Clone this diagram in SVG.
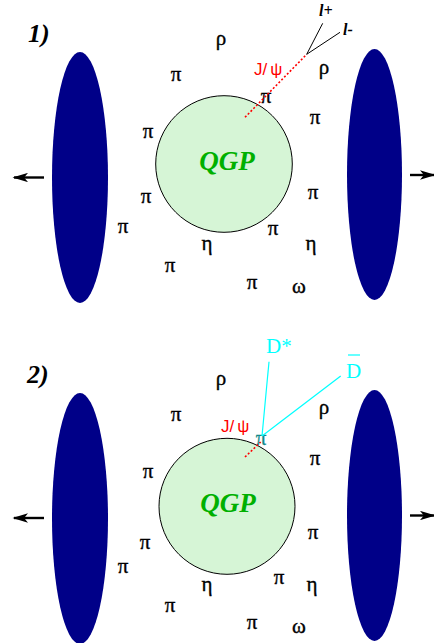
<svg xmlns="http://www.w3.org/2000/svg" width="434" height="643" viewBox="0 0 434 643">
<defs>
<style>
.nucleus{fill:#000088;stroke:none}
.qgp{fill:#d6f5d6;stroke:#000;stroke-width:1}
.qgpt{font-family:"Liberation Serif",serif;font-weight:bold;font-style:italic;font-size:27px;fill:#00b000;text-anchor:middle}
.num{font-family:"Liberation Serif",serif;font-weight:bold;font-style:italic;font-size:26px;fill:#000}
.gk{font-family:"Liberation Serif","DejaVu Serif",serif;font-size:21px;fill:#000;stroke:#000;stroke-width:0.35;text-anchor:middle}
.jpsi{font-family:"Liberation Sans",sans-serif;font-size:17px;fill:#ff0000}
.lep{font-family:"Liberation Serif",serif;font-weight:bold;font-style:italic;font-size:16px;fill:#000}
.dm{font-family:"Liberation Serif",serif;font-size:21px;fill:#00ffff}
.dot{stroke:#ff0000;stroke-width:1.6;stroke-dasharray:2 2;fill:none}
.thin{stroke:#000;stroke-width:1;fill:none}
.cyan{stroke:#00ffff;stroke-width:1.2;fill:none}
.arr{stroke:#000;stroke-width:2.4;fill:none;marker-end:url(#ah)}
</style>
<marker id="ah" viewBox="0 0 10 6" refX="9" refY="3" markerWidth="6.5" markerHeight="3.9" orient="auto" markerUnits="strokeWidth">
<path d="M0,0 L10,3 L0,6 L2.5,3 z" fill="#000"/>
</marker>
</defs>

<g id="panel1">
<text id="label1" class="num" x="28" y="42">1)</text>
<g id="nucleus1L"><ellipse class="nucleus" cx="80" cy="177.5" rx="28" ry="125.5"/></g>
<g id="nucleus1R"><ellipse class="nucleus" cx="374.5" cy="174.5" rx="27.5" ry="125.5"/></g>
<g id="qgp1"><circle class="qgp" cx="224" cy="164" r="68.3"/><text class="qgpt" x="227" y="170">QGP</text></g>
<g id="hadrons1">
<text class="gk" x="221" y="45">ρ</text>
<text class="gk" x="176" y="81">π</text>
<text class="gk" x="324" y="74">ρ</text>
<text class="gk" x="266" y="103">π</text>
<text class="gk" x="315" y="124">π</text>
<text class="gk" x="148" y="138">π</text>
<text class="gk" x="146" y="203">π</text>
<text class="gk" x="313" y="199">π</text>
<text class="gk" x="123" y="233">π</text>
<text class="gk" x="273" y="235">π</text>
<text class="gk" x="207" y="250">η</text>
<text class="gk" x="311" y="250">η</text>
<text class="gk" x="170" y="272">π</text>
<text class="gk" x="252" y="289">π</text>
<text class="gk" x="299" y="293">ω</text>
</g>
<g id="jpsi1"><text class="jpsi" x="254" y="75">J/<tspan dx="3">ψ</tspan></text></g>
<g id="lplus"><text class="lep" x="319" y="16">l+</text></g>
<g id="lminus"><text class="lep" x="343" y="35">l-</text></g>
</g>

<g id="panel2">
<text id="label2" class="num" x="27" y="383">2)</text>
<g id="nucleus2L"><ellipse class="nucleus" cx="80" cy="518.5" rx="28" ry="125.5"/></g>
<g id="nucleus2R"><ellipse class="nucleus" cx="374.5" cy="515.5" rx="27.5" ry="125.5"/></g>
<g id="qgp2"><circle class="qgp" cx="227" cy="506.3" r="68"/><text class="qgpt" x="228" y="512">QGP</text></g>
<g id="hadrons2">
<text class="gk" x="221" y="385">ρ</text>
<text class="gk" x="176" y="421">π</text>
<text class="gk" x="324" y="414">ρ</text>
<text class="gk" x="315" y="465">π</text>
<text class="gk" x="148" y="478">π</text>
<text class="gk" x="145" y="549">π</text>
<text class="gk" x="313" y="539">π</text>
<text class="gk" x="123" y="573">π</text>
<text class="gk" x="279" y="584">π</text>
<text class="gk" x="207" y="591">η</text>
<text class="gk" x="312" y="591">η</text>
<text class="gk" x="170" y="612">π</text>
<text class="gk" x="252" y="629">π</text>
<text class="gk" x="299" y="633">ω</text>
</g>
<g id="jpsi2"><text class="jpsi" x="221" y="431.5">J/<tspan dx="3">ψ</tspan></text></g>
<g id="pi2"><text class="gk" x="261" y="445" style="fill:#128a8a;stroke:#128a8a">π</text></g>
<g id="dstar"><text class="dm" x="266" y="353">D*</text></g>
<g id="dbar"><text class="dm" x="346" y="378">D</text><line x1="348" y1="355" x2="360" y2="355" stroke="#00ffff" stroke-width="1.2"/></g>
</g>

<g id="connectors">
<line class="dot" x1="245" y1="117.3" x2="306.7" y2="54.3"/>
<line class="thin" x1="306.7" y1="54.3" x2="322.7" y2="23.3"/>
<line class="thin" x1="306.7" y1="54.3" x2="340" y2="32.3"/>
<line class="dot" x1="245" y1="457" x2="260.7" y2="442"/>
<line class="cyan" x1="262" y1="436" x2="269" y2="361.7"/>
<line class="cyan" x1="262" y1="436" x2="340.7" y2="376"/>
<line class="arr" x1="44" y1="177.5" x2="14" y2="177.5"/>
<line class="arr" x1="410" y1="175" x2="434" y2="175"/>
<line class="arr" x1="44" y1="518" x2="14" y2="518"/>
<line class="arr" x1="410" y1="515.5" x2="434" y2="515.5"/>
</g>
</svg>
